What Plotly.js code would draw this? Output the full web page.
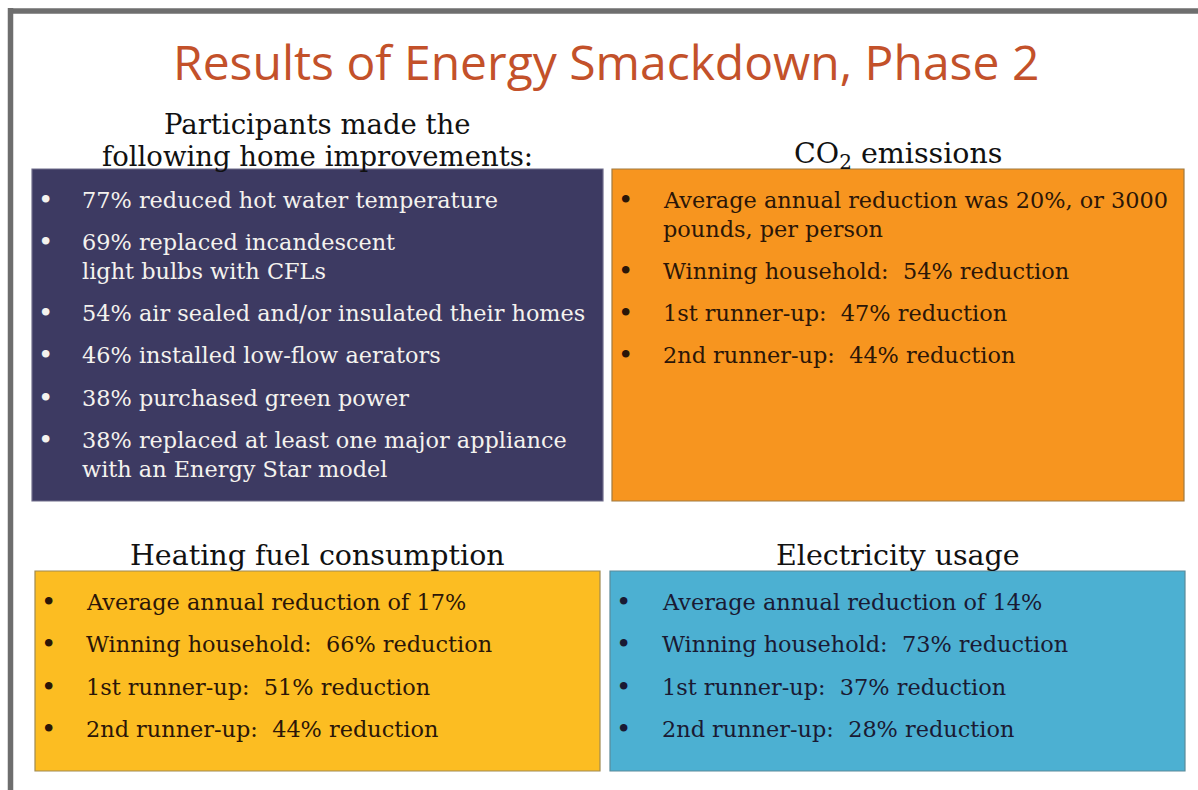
<!DOCTYPE html>
<html>
<head>
<meta charset="utf-8">
<script src="https://cdn.plot.ly/plotly-3.0.1.min.js"></script>
<style>html,body{margin:0;padding:0;background:#fff;}#chart{width:1198px;height:790px;}</style>
</head>
<body>
<div id="chart"></div>
<script>
// ---- content ----
const mainTitle = "Results of Energy Smackdown, Phase 2";
const panelTitles = [
  "Participants made the<br>following home improvements:",
  "CO<sub>2</sub> emissions",
  "Heating fuel consumption",
  "Electricity usage"
];
const improvements = [
  "77% reduced hot water temperature",
  "69% replaced incandescent<br>light bulbs with CFLs",
  "54% air sealed and/or insulated their homes",
  "46% installed low-flow aerators",
  "38% purchased green power",
  "38% replaced at least one major appliance<br>with an Energy Star model"
];
const co2Results = [
  "Average annual reduction was 20%, or 3000<br>pounds, per person",
  "Winning household:  54% reduction",
  "1st runner-up:  47% reduction",
  "2nd runner-up:  44% reduction"
];
const heatingResults = [
  "Average annual reduction of 17%",
  "Winning household:  66% reduction",
  "1st runner-up:  51% reduction",
  "2nd runner-up:  44% reduction"
];
const electricityResults = [
  "Average annual reduction of 14%",
  "Winning household:  73% reduction",
  "1st runner-up:  37% reduction",
  "2nd runner-up:  28% reduction"
];

// ---- layout (pixel-space panels) ----
const panels = [
  {box:[32,169,603,501], fill:"#3d3a62", line:"#6f6c8a", text:"#f4f2ee", items:improvements, title:panelTitles[0], titleY:156, tx:48},
  {box:[612,169,1184,501], fill:"#f7951f", line:"#a07a40", text:"#2b1608", items:co2Results, title:panelTitles[1], titleY:155, tx:49},
  {box:[35,571,600,771], fill:"#fcbd22", line:"#a08a50", text:"#2b1608", items:heatingResults, title:panelTitles[2], titleY:555, tx:49},
  {box:[610,571,1185,771], fill:"#4cb0d2", line:"#5a8a99", text:"#1a1a33", items:electricityResults, title:panelTitles[3], titleY:555, tx:50}
];

const SERIF = "'DejaVu Serif', serif";
const bodySize = 22.4, headSize = 28.5, multiHeadSize = 27.5, bulletSize = 26;
const firstOffset = 31, itemStep = 42.3, lineStep = 28.5, headLineStep = 32.5;

const shapes = [
  {type:"line", xref:"x", yref:"y", x0:8, x1:1198, y0:11, y1:11, line:{color:"#6e6e6e", width:5.5}},
  {type:"line", xref:"x", yref:"y", x0:10.5, x1:10.5, y0:8, y1:790, line:{color:"#6e6e6e", width:5.5}}
];
const annotations = [
  {x:606, y:61, xref:"x", yref:"y", text:mainTitle, showarrow:false, xanchor:"center", yanchor:"middle",
   font:{family:"'Open Sans', sans-serif", size:48, color:"#c3512a"}}
];

panels.forEach(p => {
  const [x0,y0,x1,y1] = p.box;
  shapes.push({type:"rect", xref:"x", yref:"y", x0, y0, x1, y1, fillcolor:p.fill, line:{color:p.line, width:1.2}, layer:"below"});
  const headLines = p.title.split("<br>");
  const hs = headLines.length > 1 ? multiHeadSize : headSize;
  headLines.forEach((ln, i) => {
    annotations.push({x:(x0+x1)/2, y:p.titleY - (headLines.length-1-i)*headLineStep, xref:"x", yref:"y", text:ln, showarrow:false,
      xanchor:"center", yanchor:"middle", font:{family:SERIF, size:hs, color:"#111"}});
  });
  let y = y0 + firstOffset;
  p.items.forEach(item => {
    const lines = item.split("<br>");
    lines.forEach((ln, i) => {
      annotations.push({x:x0+p.tx, y:y + i*lineStep, xref:"x", yref:"y", text:ln, showarrow:false, xanchor:"left", yanchor:"middle",
        align:"left", font:{family:SERIF, size:bodySize, color:p.text}});
    });
    annotations.push({x:x0+13, y:y, xref:"x", yref:"y", text:"•", showarrow:false, xanchor:"center", yanchor:"middle",
      font:{family:SERIF, size:bulletSize, color:p.text}});
    y += (lines.length-1)*lineStep + itemStep;
  });
});

const layout = {
  width:1198, height:790, margin:{l:0,r:0,t:0,b:0},
  paper_bgcolor:"#ffffff", plot_bgcolor:"#ffffff",
  xaxis:{range:[0,1198], visible:false, fixedrange:true},
  yaxis:{range:[790,0], visible:false, fixedrange:true},
  shapes, annotations, showlegend:false
};
Plotly.newPlot("chart", [], layout, {staticPlot:true, displayModeBar:false});
</script>
</body>
</html>
